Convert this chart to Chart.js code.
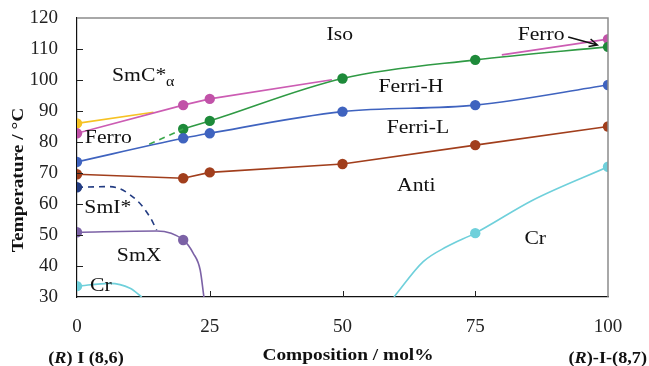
<!DOCTYPE html>
<html>
<head>
<meta charset="utf-8">
<script src="https://cdn.jsdelivr.net/npm/chart.js@4"></script>
<style>
  html, body { margin: 0; padding: 0; background: #fff; }
  #wrap { width: 649px; height: 366px; position: relative; }
</style>
</head>
<body>
<div id="wrap"><canvas id="canvas"></canvas></div>
<script>
// --- data (composition mol%, temperature °C) ---
const yellowX = [0, 14.4];
const yellowY = [86.0, 89.6];
const magentaX = [0, 20, 25, 48];
const magentaY = [82.8, 91.9, 93.9, 100.1];
const magenta2X = [80, 100];
const magenta2Y = [108.1, 113.2];
const greenDashX = [13.6, 20];
const greenDashY = [79.3, 84.2];
const greenX = [20, 25, 50, 75, 100];
const greenY = [84.2, 86.8, 100.5, 106.5, 110.7];
const blueX = [0, 20, 25, 50, 75, 100];
const blueY = [73.6, 81.2, 82.8, 89.8, 91.9, 98.4];
const brownX = [0, 20, 25, 50, 75, 100];
const brownY = [69.6, 68.3, 70.2, 72.9, 79.0, 85.0];
const navyX = [0, 6.2, 11.2, 13.7, 15];
const navyY = [65.4, 65.6, 61.3, 55.9, 51.6];
const purpleX = [0, 15, 20, 21.9, 23.2, 23.9];
const purpleY = [50.9, 51.3, 48.4, 44.1, 38.7, 30];
const cyanLX = [0, 6.2, 10, 12.2];
const cyanLY = [33.5, 34.4, 32.8, 30];
const cyanRX = [59.7, 65.2, 69.6, 75, 85.9, 100];
const cyanRY = [30, 41.4, 46.2, 50.6, 61.3, 72.0];

// compositions where a measured point (marker) sits, per curve
const yellowMarks = [0];
const magentaMarks = [0, 20, 25];
const magenta2Marks = [100];
const greenMarks = [20, 25, 50, 75, 100];
const blueMarks = [0, 20, 25, 50, 75, 100];
const brownMarks = [0, 20, 25, 50, 75, 100];
const navyMarks = [0];
const purpleMarks = [0, 20];
const cyanLMarks = [0];
const cyanRMarks = [75, 100];

const xTicks = [0, 25, 50, 75, 100];
const yTicks = [30, 40, 50, 60, 70, 80, 90, 100, 110, 120];

// phase labels [text, x, y]
const phaseLabels = [
    ["Iso", 49.5, 114.5],
    ["Ferri-H", 62.9, 97.7],
    ["Ferri-L", 64.2, 84.5],
    ["Ferro", 5.9, 81.3],
    ["Anti", 63.9, 65.8],
    ["SmI*", 5.8, 58.7],
    ["SmX", 11.7, 43.2],
    ["Cr", 4.5, 33.5],
    ["Cr", 86.3, 48.7],
    ["Ferro", 87.4, 114.5],
];
const arrowFrom = [92.5, 113.9];
const arrowTo = [98.0, 111.3];

const Chart = window.Chart;
const SERIF = "'Liberation Serif', 'DejaVu Serif', serif";
const STRETCH = 1.14;

const pts = (xs, ys) => xs.map((x, i) => ({x, y: ys[i]}));

function curve(xs, ys, marks, color, extra) {
    return Object.assign({
        type: "line",
        data: pts(xs, ys),
        borderColor: color,
        backgroundColor: color,
        borderWidth: 1.6,
        pointRadius: (c) => marks.includes(c.raw.x) ? 5.2 : 0,
        pointHoverRadius: 0,
        pointBorderWidth: 0,
        tension: 0,
        fill: false,
    }, extra || {});
}

function drawStretched(ctx, text, x, y, font, align) {
    ctx.save();
    ctx.translate(x, y);
    ctx.scale(STRETCH, 1);
    ctx.font = font;
    ctx.fillStyle = "#111";
    ctx.textAlign = align || "center";
    ctx.textBaseline = "middle";
    ctx.fillText(text, 0, 0);
    ctx.restore();
}

// draws a run of [text, font] pieces, centred or right-aligned at x
function drawRuns(ctx, runs, x, y, align) {
    ctx.save();
    ctx.translate(x, y);
    ctx.scale(STRETCH, 1);
    ctx.fillStyle = "#111";
    ctx.textBaseline = "middle";
    ctx.textAlign = "left";
    let total = 0;
    runs.forEach(([t, f]) => { ctx.font = f; total += ctx.measureText(t).width; });
    let cx = align === "right" ? -total : -total / 2;
    runs.forEach(([t, f]) => {
        ctx.font = f;
        ctx.fillText(t, cx, 0);
        cx += ctx.measureText(t).width;
    });
    ctx.restore();
}

const frame = {
    id: "frame",
    afterDraw(chart) {
        const {ctx, chartArea: a, scales: {x, y}} = chart;
        ctx.save();
        // top and right border, grey
        ctx.strokeStyle = "#8c8c8c";
        ctx.lineWidth = 1.5;
        ctx.beginPath();
        ctx.moveTo(a.left, a.top);
        ctx.lineTo(a.right, a.top);
        ctx.lineTo(a.right, a.bottom);
        ctx.stroke();
        // inward tick marks
        ctx.strokeStyle = "#222";
        ctx.lineWidth = 1;
        ctx.beginPath();
        yTicks.slice(1, -1).forEach(v => {
            const py = Math.round(y.getPixelForValue(v)) + 0.5;
            ctx.moveTo(a.left, py);
            ctx.lineTo(a.left + 6, py);
        });
        xTicks.slice(1, -1).forEach(v => {
            const px = Math.round(x.getPixelForValue(v)) + 0.5;
            ctx.moveTo(px, a.bottom);
            ctx.lineTo(px, a.bottom - 6);
        });
        ctx.stroke();
        ctx.restore();

        // phase labels
        const f = `19px ${SERIF}`;
        phaseLabels.forEach(([t, vx, vy]) => {
            drawStretched(ctx, t, x.getPixelForValue(vx), y.getPixelForValue(vy), f);
        });
        // SmC*α with subscript
        const sx = x.getPixelForValue(11.7), sy = y.getPixelForValue(101.3);
        drawStretched(ctx, "SmC*", sx, sy, f);
        drawStretched(ctx, "α", sx + 31, sy + 6, `14px ${SERIF}`);

        // arrow to the Ferro point
        const x0 = x.getPixelForValue(arrowFrom[0]), y0 = y.getPixelForValue(arrowFrom[1]);
        const x1 = x.getPixelForValue(arrowTo[0]), y1 = y.getPixelForValue(arrowTo[1]);
        const ang = Math.atan2(y1 - y0, x1 - x0);
        ctx.save();
        ctx.strokeStyle = "#111";
        ctx.lineWidth = 1.5;
        ctx.beginPath();
        ctx.moveTo(x0, y0);
        ctx.lineTo(x1, y1);
        ctx.moveTo(x1 - 9 * Math.cos(ang - 0.45), y1 - 9 * Math.sin(ang - 0.45));
        ctx.lineTo(x1, y1);
        ctx.lineTo(x1 - 9 * Math.cos(ang + 0.45), y1 - 9 * Math.sin(ang + 0.45));
        ctx.stroke();
        ctx.restore();

        // axis titles
        const bold = `bold 17px ${SERIF}`;
        drawStretched(ctx, "Composition / mol%", 348, 356, bold);
        ctx.save();
        ctx.translate(19, 180);
        ctx.rotate(-Math.PI / 2);
        drawStretched(ctx, "Temperature / °C", 0, 0, bold);
        ctx.restore();

        const b = `bold 16px ${SERIF}`, bi = `italic bold 16px ${SERIF}`;
        drawRuns(ctx, [["(", b], ["R", bi], [") I (8,6)", b]], 86, 359, "center");
        drawRuns(ctx, [["(", b], ["R", bi], [")-I-(8,7)", b]], 647, 359, "right");
    },
};

new Chart(document.getElementById("canvas"), {
    type: "scatter",
    data: {
        datasets: [
            curve(cyanLX, cyanLY, cyanLMarks, "#6fd0db", {cubicInterpolationMode: "monotone"}),
            curve(cyanRX, cyanRY, cyanRMarks, "#6fd0db", {cubicInterpolationMode: "monotone"}),
            curve(purpleX, purpleY, purpleMarks, "#7c62a6", {cubicInterpolationMode: "monotone"}),
            curve(navyX, navyY, navyMarks, "#233c82", {cubicInterpolationMode: "monotone", borderDash: [6, 5]}),
            curve(brownX, brownY, brownMarks, "#a13e1c"),
            curve(blueX, blueY, blueMarks, "#3f63bf", {cubicInterpolationMode: "monotone"}),
            curve(greenDashX, greenDashY, [], "#3aa74b", {borderDash: [6, 5]}),
            curve(greenX, greenY, greenMarks, "#2f9a44", {cubicInterpolationMode: "monotone", backgroundColor: "#1e8a3a"}),
            curve(magentaX, magentaY, magentaMarks, "#cc5cb3", {backgroundColor: "#c152a8"}),
            curve(magenta2X, magenta2Y, magenta2Marks, "#cc5cb3", {backgroundColor: "#c152a8"}),
            curve(yellowX, yellowY, yellowMarks, "#f6c224"),
        ],
    },
    options: {
        responsive: true,
        maintainAspectRatio: false,
        animation: false,
        events: [],
        plugins: {
            legend: {display: false},
            tooltip: {enabled: false},
        },
        layout: {
            padding: {left: 0, right: 41, top: 18, bottom: 0},
        },
        scales: {
            x: {
                type: "linear",
                min: 0,
                max: 100,
                afterFit: (s) => { s.height = 69; s.paddingLeft = 0; s.paddingRight = 0; },
                afterBuildTicks: (s) => { s.ticks = xTicks.map(v => ({value: v})); },
                grid: {display: false, drawTicks: false},
                border: {display: true, color: "#111", width: 1.2},
                ticks: {
                    padding: 19,
                    color: "#222",
                    maxRotation: 0,
                    font: {family: SERIF, size: 19},
                },
            },
            y: {
                type: "linear",
                min: 30,
                max: 120,
                afterFit: (s) => { s.width = 77; s.paddingTop = 0; s.paddingBottom = 0; },
                afterBuildTicks: (s) => { s.ticks = yTicks.map(v => ({value: v})); },
                grid: {display: false, drawTicks: false},
                border: {display: true, color: "#111", width: 1.2},
                ticks: {
                    padding: 19,
                    color: "#222",
                    font: {family: SERIF, size: 19},
                },
            },
        },
    },
    plugins: [frame],
});
</script>
</body>
</html>
